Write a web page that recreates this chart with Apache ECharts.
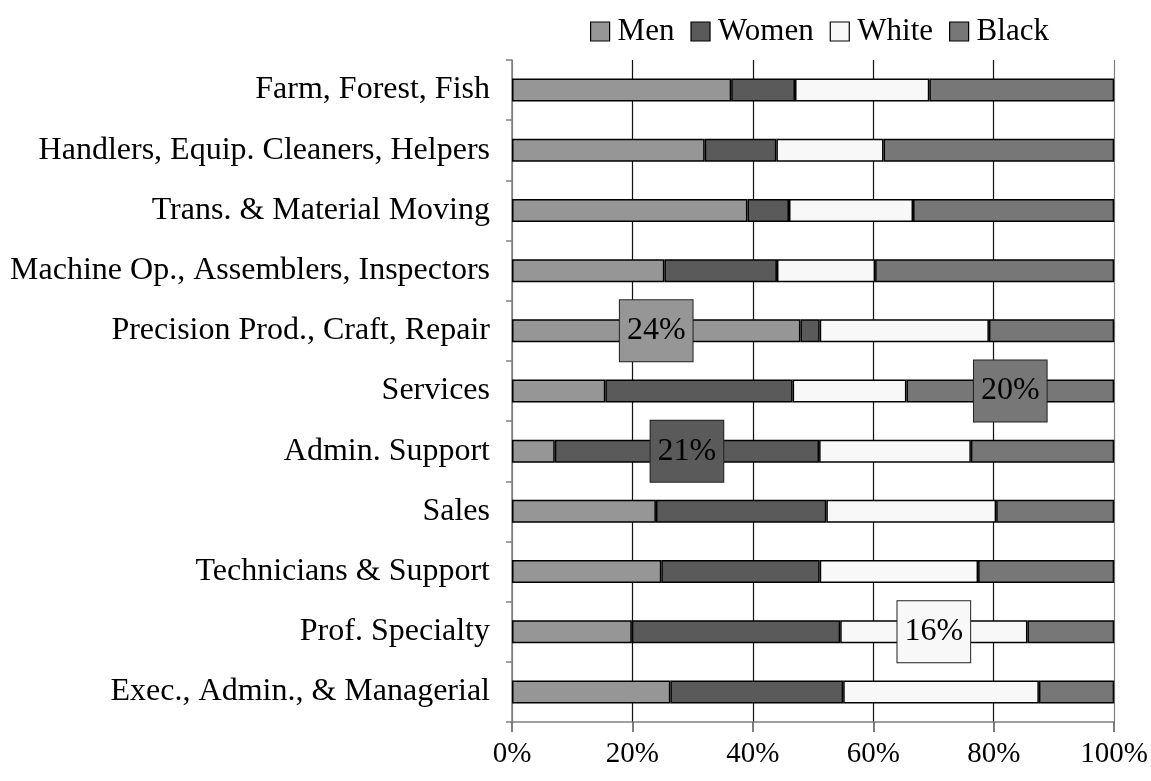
<!DOCTYPE html>
<html>
<head>
<meta charset="utf-8">
<script src="https://cdn.jsdelivr.net/npm/echarts@6/dist/echarts.min.js"></script>
<style>
  html, body { margin: 0; padding: 0; background: #fff; }
  #chart { width: 1151px; height: 781px; }
</style>
</head>
<body>
<div id="chart"></div>
<script>
  // categories, top to bottom
  var categories = [
    'Farm, Forest, Fish',
    'Handlers, Equip. Cleaners, Helpers',
    'Trans. & Material Moving',
    'Machine Op., Assemblers, Inspectors',
    'Precision Prod., Craft, Repair',
    'Services',
    'Admin. Support',
    'Sales',
    'Technicians & Support',
    'Prof. Specialty',
    'Exec., Admin., & Managerial'
  ]
  var seriesNames = ['Men', 'Women', 'White', 'Black']
  var men   = [36.4, 32.0, 39.1, 25.3, 47.9, 15.5, 7.1, 23.9, 24.8, 19.9, 26.3]
  var women = [10.6, 11.9, 6.9, 18.7, 3.2, 31.1, 43.9, 28.3, 26.3, 34.6, 28.7]
  var white = [22.3, 17.8, 20.6, 16.3, 28.1, 18.9, 25.2, 28.2, 26.3, 31.1, 32.5]
  var black = [30.7, 38.3, 33.4, 39.7, 20.8, 34.5, 23.8, 19.6, 22.6, 14.4, 12.5]
  // callout boxes: [series index, category index, text]
  var callouts = [
    [0, 4, '24%'],
    [3, 5, '20%'],
    [1, 6, '21%'],
    [2, 9, '16%']
  ]
  var colors = ['#969696', '#5a5a5a', '#f8f8f8', '#777777']
  var font = 'Liberation Serif'

  var values = [men, women, white, black]
  var series = seriesNames.map(function (name, s) {
    var data = values[s].map(function (v, c) {
      var item = { value: v }
      callouts.forEach(function (co) {
        if (co[0] === s && co[1] === c) {
          item.label = {
            show: true,
            position: 'inside',
            formatter: co[2],
            fontFamily: font,
            fontSize: 32,
            lineHeight: 32,
            color: '#000',
            backgroundColor: colors[s],
            borderColor: '#222',
            borderWidth: 1,
            padding: [15, 7, 14, 7]
          }
        }
      })
      return item
    })
    return {
      name: name,
      type: 'bar',
      stack: 'all',
      barWidth: 23,
      data: data,
      itemStyle: { color: colors[s], borderColor: '#000', borderWidth: 1.5 },
      emphasis: { disabled: true },
      animation: false
    }
  })

  var myChart = echarts.init(document.getElementById('chart'))
  myChart.setOption({
    animation: false,
    textStyle: { fontFamily: font },
    legend: {
      data: seriesNames,
      left: 585,
      top: 11,
      icon: 'rect',
      itemWidth: 19,
      itemHeight: 19,
      itemGap: 16,
      textStyle: { fontFamily: font, fontSize: 31, color: '#000', padding: [0, 0, 0, 3] },
      itemStyle: { borderColor: '#000', borderWidth: 1.2 }
    },
    grid: { left: 512, right: 35, top: 60, bottom: 59 },
    xAxis: {
      type: 'value',
      min: 0,
      max: 100,
      interval: 20,
      axisLine: { show: true, lineStyle: { color: '#808080', width: 1.5 } },
      axisTick: { show: true, length: 10, lineStyle: { color: '#555', width: 1.5 } },
      axisLabel: { formatter: '{value}%', fontFamily: font, fontSize: 29, color: '#000', margin: 18 },
      splitLine: { show: true, lineStyle: { color: ['#808080', '#111', '#111', '#111', '#111', '#808080'], width: 1.2 } }
    },
    yAxis: {
      type: 'category',
      inverse: true,
      data: categories,
      axisLine: { show: true, lineStyle: { color: '#808080', width: 1.5 } },
      axisTick: { show: true, length: 6, lineStyle: { color: '#808080', width: 1.5 } },
      axisLabel: { fontFamily: font, fontSize: 32, color: '#000', margin: 22 }
    },
    series: series
  })
</script>
</body>
</html>
